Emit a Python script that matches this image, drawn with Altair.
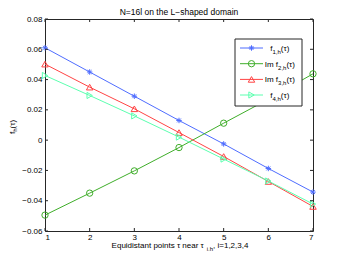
import altair as alt
import pandas as pd

# ---- data ----
tau = [1, 2, 3, 4, 5, 6, 7]
f1 = [0.061, 0.045, 0.029, 0.013, -0.0025, -0.0187, -0.0343]
f2 = [-0.0495, -0.035, -0.0203, -0.0049, 0.0112, 0.027, 0.0438]
f3 = [0.0502, 0.035, 0.0207, 0.005, -0.0108, -0.0273, -0.0438]
f4 = [0.0427, 0.0295, 0.016, 0.002, -0.0125, -0.027, -0.0422]
series = [f1, f2, f3, f4]
colors = ["#4f6dff", "#3fae2a", "#ff4444", "#5cffb0"]
ASTER = "M0,-1L0,1M-1,0L1,0M-0.7,-0.7L0.7,0.7M-0.7,0.7L0.7,-0.7"
shapes = [ASTER, "circle", "triangle-up", "triangle-right"]
sizes = [30, 40, 42, 38]
legend_parts = [("f", "1,h", "(τ)"), ("Im f", "2,h", "(τ)"),
                ("Im f", "3,h", "(τ)"), ("f", "4,h", "(τ)")]
yticks = [-0.06, -0.04, -0.02, 0, 0.02, 0.04, 0.06, 0.08]
xticks = tau
title_text = "N=16l on the L−shaped domain"
xlabel_parts = ("Equidistant  points τ near τ", "i,h", ", i=1,2,3,4")
ylabel_parts = ("f", "h", "(τ)")

W, H = 268, 212
FONT = "Liberation Sans"
FS, SFS = 8, 6
FRAME = "#262626"

AW = {" ": 278, "(": 333, ")": 333, ",": 278, ".": 278, "-": 333, "=": 584,
      "I": 278, "m": 833, "f": 278, "h": 556, "i": 222, "E": 667, "q": 556,
      "u": 556, "d": 556, "s": 500, "t": 278, "a": 556, "n": 556, "p": 556,
      "o": 556, "e": 556, "r": 333, "N": 722, "l": 222, "L": 556, "−": 584,
      "τ": 440}


def tw(s, size):
    return sum(AW.get(c, 556) for c in s) * size / 1000.0


xs = alt.Scale(domain=[1, 7], nice=False, zero=False)
ys = alt.Scale(domain=[-0.06, 0.08], nice=False, zero=False)
xaxis = alt.Axis(values=xticks, format="d", ticks=False, domain=False, grid=False,
                 labelFont=FONT, labelFontSize=FS, labelPadding=2, title=None,
                 labelColor="#000")
yaxis = alt.Axis(values=yticks, ticks=False, domain=False, grid=False,
                 labelFont=FONT, labelFontSize=FS, labelPadding=3, title=None,
                 labelColor="#000",
                 labelExpr="datum.value == 0 ? '0' : format(datum.value, '.2f')")

one = pd.DataFrame({"a": [0]})
layers = []

# series lines and markers
for vals, col, shp, sz in zip(series, colors, shapes, sizes):
    df = pd.DataFrame({"tau": tau, "v": vals})
    enc = dict(x=alt.X("tau:Q", scale=xs, axis=xaxis),
               y=alt.Y("v:Q", scale=ys, axis=yaxis))
    layers.append(alt.Chart(df).mark_line(color=col, strokeWidth=1).encode(**enc))
    layers.append(alt.Chart(df).mark_point(shape=shp, size=sz, filled=False,
                                           color=col, strokeWidth=1, opacity=1).encode(**enc))

# inward ticks on all four sides
ydf = pd.DataFrame({"v": yticks})
xdf = pd.DataFrame({"tau": xticks})
TL = 3
layers.append(alt.Chart(ydf).mark_rule(color=FRAME).encode(
    y=alt.Y("v:Q", scale=ys, axis=yaxis), x=alt.value(0), x2=alt.value(TL)))
layers.append(alt.Chart(ydf).mark_rule(color=FRAME).encode(
    y=alt.Y("v:Q", scale=ys, axis=yaxis), x=alt.value(W - TL), x2=alt.value(W)))
layers.append(alt.Chart(xdf).mark_rule(color=FRAME).encode(
    x=alt.X("tau:Q", scale=xs, axis=xaxis), y=alt.value(H), y2=alt.value(H - TL)))
layers.append(alt.Chart(xdf).mark_rule(color=FRAME).encode(
    x=alt.X("tau:Q", scale=xs, axis=xaxis), y=alt.value(0), y2=alt.value(TL)))


def txt(text, x, y, size, align="left", angle=0):
    return alt.Chart(one).mark_text(text=text, font=FONT, fontSize=size, align=align,
                                    baseline="alphabetic", angle=angle,
                                    color="#000").encode(x=alt.value(x), y=alt.value(y))


# legend box
LX0, LX1, LY0, LY1 = 190, 257, 20, 87
layers.append(alt.Chart(one).mark_rect(fill="white", stroke=FRAME, strokeWidth=1).encode(
    x=alt.value(LX0), x2=alt.value(LX1), y=alt.value(LY0), y2=alt.value(LY1)))
rows = [29, 44.7, 60.4, 76]
for (main, sub, tail), col, shp, sz, ry in zip(legend_parts, colors, shapes, sizes, rows):
    layers.append(alt.Chart(one).mark_rule(color=col, strokeWidth=1).encode(
        x=alt.value(195), x2=alt.value(218), y=alt.value(ry)))
    layers.append(alt.Chart(one).mark_point(shape=shp, size=sz, filled=False, color=col,
                                            strokeWidth=1, opacity=1).encode(
        x=alt.value(206.5), y=alt.value(ry)))
    total = tw(main, FS) + tw(sub, SFS) + tw(tail, FS)
    x0 = 235 - total / 2
    layers.append(txt(main, x0, ry + 3, FS))
    layers.append(txt(sub, x0 + tw(main, FS), ry + 6, SFS))
    layers.append(txt(tail, x0 + tw(main, FS) + tw(sub, SFS), ry + 3, FS))

# title
layers.append(txt(title_text, W / 2, -4.5, 8.5, align="center"))

# x label with subscript
m, s, t = xlabel_parts
total = tw(m, FS) + tw(s, SFS) + tw(t, FS)
x0 = 135 - total / 2
layers.append(txt(m, x0, 229, FS))
layers.append(txt(s, x0 + tw(m, FS), 231.5, SFS))
layers.append(txt(t, x0 + tw(m, FS) + tw(s, SFS), 229, FS))

# y label (rotated) with subscript
m, s, t = ylabel_parts
y0 = 115
layers.append(txt(m, -30.5, y0, FS, angle=270))
layers.append(txt(s, -28.5, y0 - tw(m, FS), SFS, angle=270))
layers.append(txt(t, -30.5, y0 - tw(m, FS) - tw(s, SFS), FS, angle=270))

chart = alt.layer(*layers).properties(
    width=W, height=H,
    autosize=alt.AutoSizeParams(type="none"),
    padding={"left": 37, "top": 11, "right": 25, "bottom": 20},
).configure_view(stroke=FRAME, strokeWidth=1)

chart.save("out.html", embed_options={"renderer": "svg", "actions": False})
